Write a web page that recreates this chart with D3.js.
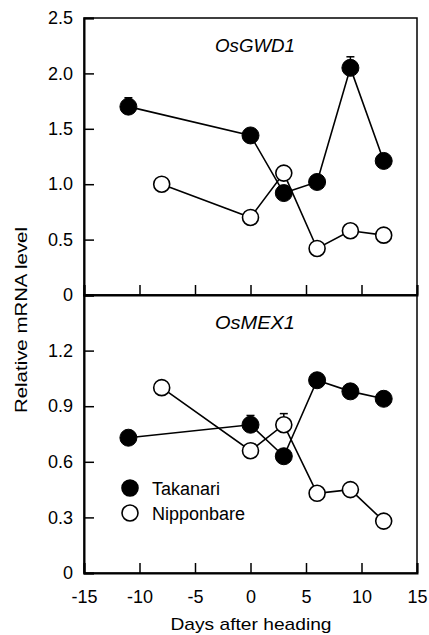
<!DOCTYPE html>
<html>
<head>
<meta charset="utf-8">
<script src="https://cdn.jsdelivr.net/npm/d3@7"></script>
<style>
  body { margin: 0; background: #fff; }
  svg text { font-family: "Liberation Sans", Arial, sans-serif; fill: #000; }
</style>
</head>
<body>
<div class="chart"></div>
<script>
// days after heading
const takanariDays = [-11, 0, 3, 6, 9, 12];
const nipponbareDays = [-8, 0, 3, 6, 9, 12];

// OsGWD1
const gwdTakanari = [1.70, 1.44, 0.92, 1.02, 2.05, 1.21];
const gwdTakanariErr = [0.08, 0, 0, 0, 0.10, 0];
const gwdNipponbare = [1.00, 0.70, 1.10, 0.42, 0.58, 0.54];
const gwdNipponbareErr = [0, 0, 0, 0, 0, 0];

// OsMEX1
const mexTakanari = [0.73, 0.80, 0.63, 1.04, 0.98, 0.94];
const mexTakanariErr = [0, 0.05, 0, 0, 0, 0];
const mexNipponbare = [1.00, 0.66, 0.80, 0.43, 0.45, 0.28];
const mexNipponbareErr = [0, 0, 0.06, 0, 0, 0];

const xTicks = [-15, -10, -5, 0, 5, 10, 15];
const gwdTicks = [0, 0.5, 1.0, 1.5, 2.0, 2.5];
const mexTicks = [0, 0.3, 0.6, 0.9, 1.2];

const width = 429, height = 635;
const left = 84, right = 417;

const svg = d3.select('.chart').append('svg')
  .attr('width', width).attr('height', height);

const x = d3.scaleLinear().domain([-15, 15]).range([left, right]);

const panels = [
  { title: 'OsGWD1', top: 18, bottom: 295, max: 2.5, ticks: gwdTicks,
    tak: gwdTakanari, takErr: gwdTakanariErr, nip: gwdNipponbare, nipErr: gwdNipponbareErr, labels: false },
  { title: 'OsMEX1', top: 295, bottom: 573, max: 1.5, ticks: mexTicks,
    tak: mexTakanari, takErr: mexTakanariErr, nip: mexNipponbare, nipErr: mexNipponbareErr, labels: true }
];

panels.forEach(p => {
  const y = d3.scaleLinear().domain([0, p.max]).range([p.bottom, p.top]);
  const g = svg.append('g');

  // frame
  g.append('rect')
    .attr('x', left).attr('y', p.top)
    .attr('width', right - left).attr('height', p.bottom - p.top)
    .attr('fill', 'none').attr('stroke', '#000').attr('stroke-width', 1.5);

  // y axis
  const yAxis = g.append('g')
    .attr('transform', `translate(${left},0)`)
    .call(d3.axisLeft(y).tickValues(p.ticks).tickSize(-10).tickPadding(11)
      .tickFormat(d => d === 0 ? '0' : d3.format('.1f')(d)));
  yAxis.select('.domain').attr('stroke-width', 2);
  yAxis.selectAll('.tick line').attr('stroke-width', 1.5);
  yAxis.selectAll('text').attr('font-size', 18).attr('font-family', null);

  // x axis
  const xAxis = g.append('g')
    .attr('transform', `translate(0,${p.bottom})`)
    .call(d3.axisBottom(x).tickValues(xTicks).tickSize(-10).tickPadding(17)
      .tickFormat(p.labels ? d3.format('d') : ''));
  xAxis.select('.domain').attr('stroke-width', 2);
  xAxis.selectAll('.tick line').attr('stroke-width', 1.5);
  xAxis.selectAll('text').attr('font-size', 18).attr('font-family', null)
    .text(d => p.labels ? (d < 0 ? '-' + Math.abs(d) : d) : '');

  // title
  g.append('text')
    .attr('x', 255).attr('y', p.top + (p.title === 'OsGWD1' ? 34 : 34))
    .attr('text-anchor', 'middle')
    .attr('font-size', 18).attr('font-style', 'italic')
    .attr('textLength', 80).attr('lengthAdjust', 'spacingAndGlyphs')
    .text(p.title);

  const line = d3.line().x(d => x(d[0])).y(d => y(d[1]));
  const takData = takanariDays.map((d, i) => [d, p.tak[i], p.takErr[i]]);
  const nipData = nipponbareDays.map((d, i) => [d, p.nip[i], p.nipErr[i]]);

  [nipData, takData].forEach(data => {
    g.append('path').datum(data)
      .attr('d', line).attr('fill', 'none')
      .attr('stroke', '#000').attr('stroke-width', 1.6);
  });

  // error bars
  [takData, nipData].forEach(data => {
    const eb = g.selectAll(null).data(data.filter(d => d[2] > 0)).enter().append('g');
    eb.append('line')
      .attr('x1', d => x(d[0])).attr('x2', d => x(d[0]))
      .attr('y1', d => y(d[1])).attr('y2', d => y(d[1] + d[2]))
      .attr('stroke', '#000').attr('stroke-width', 1.5);
    eb.append('line')
      .attr('x1', d => x(d[0]) - 4).attr('x2', d => x(d[0]) + 4)
      .attr('y1', d => y(d[1] + d[2])).attr('y2', d => y(d[1] + d[2]))
      .attr('stroke', '#000').attr('stroke-width', 1.5);
  });

  g.selectAll(null).data(nipData).enter().append('circle')
    .attr('cx', d => x(d[0])).attr('cy', d => y(d[1])).attr('r', 8)
    .attr('fill', '#fff').attr('stroke', '#000').attr('stroke-width', 1.6);
  g.selectAll(null).data(takData).enter().append('circle')
    .attr('cx', d => x(d[0])).attr('cy', d => y(d[1])).attr('r', 8.5)
    .attr('fill', '#000').attr('stroke', '#000').attr('stroke-width', 1);
});

// legend
const legend = [
  { name: 'Takanari', fill: '#000', y: 488 },
  { name: 'Nipponbare', fill: '#fff', y: 513 }
];
const lg = svg.selectAll('.legend').data(legend).enter().append('g').attr('class', 'legend');
lg.append('circle')
  .attr('cx', 130).attr('cy', d => d.y).attr('r', 8)
  .attr('fill', d => d.fill).attr('stroke', '#000').attr('stroke-width', 1.6);
lg.append('text')
  .attr('x', 152).attr('y', d => d.y + 7)
  .attr('font-size', 18)
  .text(d => d.name);

// axis titles
svg.append('text')
  .attr('transform', 'translate(27,320) rotate(-90)')
  .attr('text-anchor', 'middle')
  .attr('font-size', 17)
  .attr('textLength', 186).attr('lengthAdjust', 'spacingAndGlyphs')
  .text('Relative mRNA level');

svg.append('text')
  .attr('x', 251).attr('y', 630)
  .attr('text-anchor', 'middle')
  .attr('font-size', 17)
  .attr('textLength', 161).attr('lengthAdjust', 'spacingAndGlyphs')
  .text('Days after heading');
</script>
</body>
</html>
